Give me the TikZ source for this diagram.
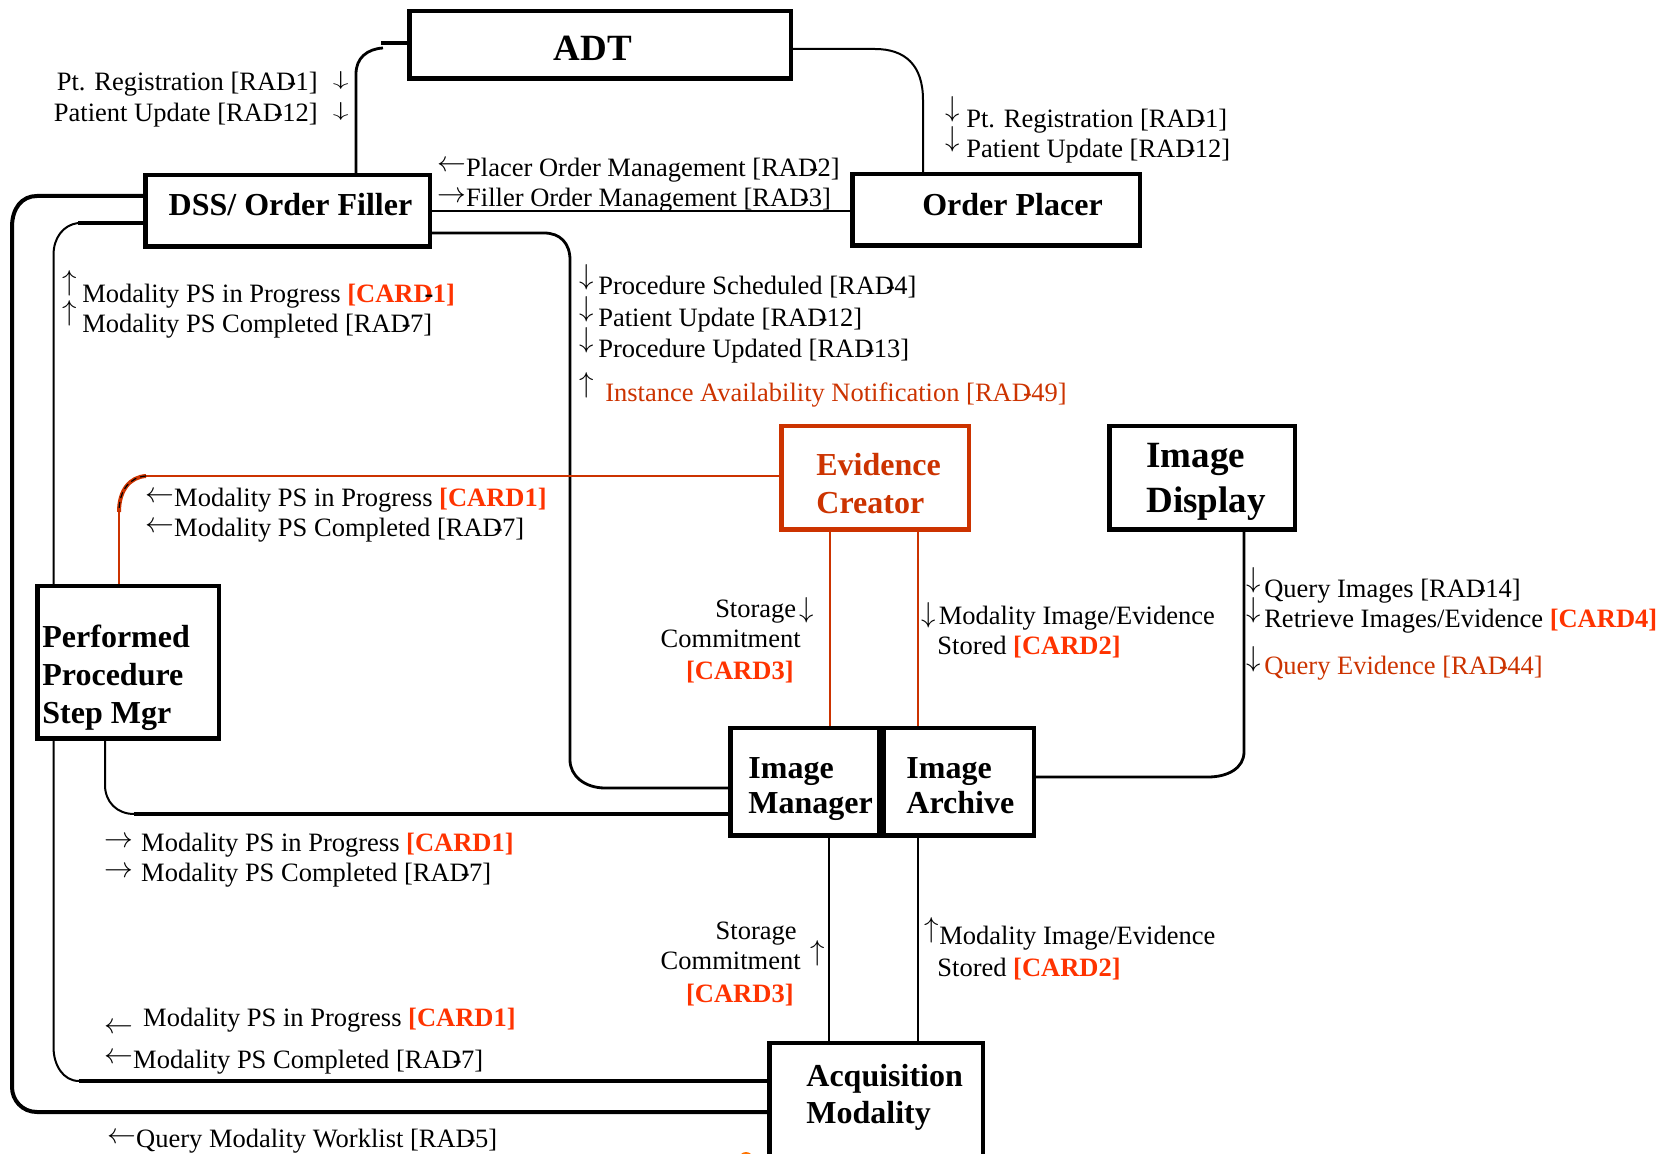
\documentclass[tikz,border=0pt]{standalone}
\usepackage{fontspec}
\setmainfont{Liberation Serif}
\usetikzlibrary{backgrounds}

\definecolor{cardred}{HTML}{FF3300}
\definecolor{evid}{HTML}{CC3300}

% transaction codes: the dash is tucked into the preceding letter
\newcommand\rd[1]{[RAD\kern-.3em-\kern-.02em#1]}
\newcommand\crd[1]{\textcolor{cardred}{\bfseries[CARD#1]}}
\newcommand\diaLabel{\fontsize{13.25}{15}\selectfont}
\newcommand\diaTitle{\fontsize{16}{19}\selectfont\bfseries}
\newcommand\diaBig{\fontsize{18.5}{22.5}\selectfont\bfseries}
\newcommand\boxlines[3]{{\fontsize{#1}{#2}\selectfont\bfseries\begin{tabular}[t]{@{}l@{}}#3\end{tabular}}}

\begin{document}
\begin{tikzpicture}[x=0.5pt,y=-0.5pt,
  box/.style={draw, line width=2.25pt, fill=white, inner sep=0pt, outer sep=0pt},
  lbl/.style={inner sep=0pt, anchor=base west, font=\diaLabel},
  lble/.style={lbl, anchor=base east},
  ttl/.style={inner sep=0pt, font=\diaTitle},
  heavy/.style={line width=2pt},
  medium/.style={line width=1.4pt},
  light/.style={line width=1pt},
  hair/.style={line width=0.75pt},
  ecline/.style={draw=evid, line width=0.9pt}]

\useasboundingbox (0,0) rectangle (1678,1154);
\clip (0,0) rectangle (1678,1154);

% ---- actors ----
\node[box, minimum width=190.75pt, minimum height=33.75pt] (adt)  at (600,45) {};
\node[box, minimum width=142.25pt, minimum height=35.75pt] (dss)  at (287.5,211) {};
\node[box, minimum width=143.75pt, minimum height=35.75pt] (op)   at (996,210) {};
\node[box, draw=evid, minimum width=93.75pt, minimum height=51.75pt] (ec) at (875,478) {};
\node[box, minimum width=92.75pt, minimum height=51.75pt]  (id)   at (1202,478) {};
\node[box, minimum width=90.75pt, minimum height=76.25pt]  (ppsm) at (128,662.5) {};
\node[box, minimum width=74.25pt, minimum height=53.75pt]  (im)   at (804.5,782) {};
\node[box, minimum width=75.25pt, minimum height=53.75pt]  (ia)   at (958.5,782) {};
\node[box, minimum width=106.75pt, minimum height=57.25pt] (am)   at (876,1100.5) {};

% ---- actor names ----
\node[inner sep=0pt, font=\diaBig, anchor=base] (adtT) at (593,61) {ADT};
\node[ttl, anchor=base] (dssT) at (290.5,216) {DSS/ Order Filler};
\node[ttl, anchor=base] (opT)  at (1012.5,216) {Order Placer};
\node[ttl, anchor=base west, text=evid] (ecT) at (816,476) {\boxlines{16}{19}{Evidence\\Creator}};
\node[ttl, anchor=base west] (idT)   at (1146,468) {\boxlines{18.5}{22.5}{Image\\Display}};
\node[ttl, anchor=base west] (ppsmT) at (42,648)  {\boxlines{16}{19}{Performed\\Procedure\\Step Mgr}};
\node[ttl, anchor=base west] (imT)   at (748,779) {\boxlines{16}{17.5}{Image\\Manager}};
\node[ttl, anchor=base west] (iaT)   at (906,779) {\boxlines{16}{17.5}{Image\\Archive}};
\node[ttl, anchor=base west] (amT)   at (806,1087) {\boxlines{16}{18.5}{Acquisition\\Modality}};

% ---- connectors ----
\begin{scope}[on background layer]
  % ADT - Order Filler
  \coordinate (adtStub) at (381,43);
  \draw[heavy] (adtStub) -- (adtStub -| adt.west);
  \draw[medium] (356,0 |- dss.north) -- (356,74) .. controls (356,58) and (367,49) .. (383,48);
  % ADT - Order Placer
  \draw[light] (adt.east |- 0,49) -- (875,49) .. controls (905,49) and (923,65) .. (923,100) -- (923,0 |- op.north);
  % Order Filler - Order Placer
  \draw[light] (dss.east) -- (dss.east -| op.west);
  % Order Filler - Image Manager
  \draw[medium] (dss.east |- 0,233) -- (544,233) .. controls (560,233) and (570,243) .. (570,260)
        -- (570,760) .. controls (570,776) and (585,788) .. (605,788) -- (im.west |- 0,788);
  % Order Filler - Acquisition Modality (worklist)
  \draw[heavy] (dss.west |- 0,196) -- (37,196) .. controls (22,196) and (12,208) .. (12,227)
        -- (12,1087) .. controls (12,1100) and (22,1112) .. (37,1112) -- (am.west |- 0,1112);
  % Order Filler - Acquisition Modality (PPS)
  \coordinate (ofA) at (78,223);
  \coordinate (ofB) at (79,1081);
  \draw[heavy] (dss.west |- ofA) -- (ofA);
  \draw[light] (ofA) .. controls (63,225) and (53.5,238) .. (53.5,255) -- (53.5,1047)
        .. controls (53.5,1065) and (63,1081) .. (ofB);
  \draw[heavy] (ofB) -- (ofB -| am.west);
  % PPS Manager - Image Manager
  \coordinate (pmA) at (134,814);
  \draw[light] (105,0 |- ppsm.south) -- (105,785) .. controls (105,802) and (117,814) .. (pmA);
  \draw[line width=1.75pt] (pmA) -- (pmA -| im.west);
  % Evidence Creator - PPS Manager
  \coordinate (ecA) at (146,476);
  \coordinate (ecB) at (119,512);
  \draw[ecline] (ec.west |- ecA) -- (ecA);
  \draw[evid, line width=2pt] (ecA) .. controls (130,477) and (119,490) .. (ecB);
  \draw[black, line width=0.6pt, dash pattern=on 3pt off 2pt] (ecA) .. controls (130,477) and (119,490) .. (ecB);
  \draw[ecline] (ecB) -- (ecB |- ppsm.north);
  % Evidence Creator - Image Manager / Archive
  \draw[ecline] (830,0 |- ec.south) -- (830,0 |- im.north);
  \draw[ecline] (918,0 |- ec.south) -- (918,0 |- ia.north);
  % Acquisition Modality - Image Manager / Archive
  \draw[hair] (829,0 |- im.south) -- (829,0 |- am.north);
  \draw[hair] (918,0 |- ia.south) -- (918,0 |- am.north);
  % Image Display - Image Archive
  \draw[medium] (1244,0 |- id.south) -- (1244,752) .. controls (1244,768) and (1228,777) .. (1208,777)
        -- (ia.east |- 0,777);
\end{scope}

\fill[orange!90!red] (746,1159) circle (7);

% ---- transactions ----
\node[lble] (regA) at (349,91)  {Pt. Registration \rd{1}\hspace{7.5pt}\raisebox{2.5pt}{\scalebox{1.1}[0.7]{$\downarrow$}}};
\node[lble] (updA) at (349,122) {Patient Update \rd{12}\hspace{7.5pt}\raisebox{2.5pt}{\scalebox{1.1}[0.7]{$\downarrow$}}};

\node[lbl] (regB) at (945.5,128) {\raisebox{5.5pt}{$\downarrow$}\hspace{3pt}Pt. Registration \rd{1}};
\node[lbl] (updB) at (945.5,158) {\raisebox{5.5pt}{$\downarrow$}\hspace{3pt}Patient Update \rd{12}};

\node[lbl] (placer) at (437,177) {\raisebox{2.5pt}{$\leftarrow$}Placer Order Management \rd{2}};
\node[lbl] (filler) at (437,207) {\raisebox{2pt}{$\rightarrow$}Filler Order Management \rd{3}};

\node[lbl] (mpsA) at (62.5,303) {\raisebox{6pt}{$\uparrow$}\hspace{2.5pt}Modality PS in Progress \textcolor{cardred}{\bfseries[CARD\kern-.3em\textcolor{black}{-}\kern-.03em1]}};
\node[lbl] (mpcA) at (62.5,333) {\raisebox{6pt}{$\uparrow$}\hspace{2.5pt}Modality PS Completed \rd{7}};

\node[lbl] (psch) at (579.5,295) {\raisebox{5pt}{$\downarrow$}\hspace{2pt}Procedure Scheduled \rd{4}};
\node[lbl] (pupd) at (579.5,327) {\raisebox{5pt}{$\downarrow$}\hspace{2pt}Patient Update \rd{12}};
\node[lbl] (prup) at (579.5,358) {\raisebox{5pt}{$\downarrow$}\hspace{2pt}Procedure Updated \rd{13}};
\node[lbl, text=evid] (ian) at (579.5,402) {\textcolor{black}{\raisebox{4.5pt}{$\uparrow$}}\hspace{5.5pt}Instance Availability Notification \rd{49}};

\node[lbl] (mpsB) at (145,507) {\raisebox{2pt}{$\leftarrow$}Modality PS in Progress \crd{1}};
\node[lbl] (mpcB) at (145,537) {\raisebox{2pt}{$\leftarrow$}Modality PS Completed \rd{7}};

\node[lble] (stoA) at (814,618) {Storage\hspace{1.5pt}$\downarrow$};
\node[lble] (comA) at (801,648) {Commitment};
\node[lble] (crdA) at (794,680) {\crd{3}};

\node[lbl] (mieA) at (921.5,625) {\raisebox{1pt}{$\downarrow$}\hspace{1.25pt}Modality Image/Evidence};
\node[lbl] (stdA) at (937,655) {Stored \crd{2}};

\node[lbl] (qimg) at (1246.5,598) {\raisebox{5pt}{$\downarrow$}\hspace{1.5pt}Query Images \rd{14}};
\node[lbl] (rimg) at (1246.5,628) {\raisebox{5pt}{$\downarrow$}\hspace{1.5pt}Retrieve Images/Evidence \crd{4}};
\node[lbl, text=evid] (qev) at (1246.5,675) {\textcolor{black}{\raisebox{4pt}{$\downarrow$}}\hspace{1.5pt}Query Evidence \rd{44}};

\node[lbl] (mpsC) at (104,852) {\raisebox{2pt}{$\rightarrow$}\hspace{4pt}Modality PS in Progress \crd{1}};
\node[lbl] (mpcC) at (104,882) {\raisebox{2pt}{$\rightarrow$}\hspace{4pt}Modality PS Completed \rd{7}};

\node[lble] (stoB) at (797,940)  {Storage};
\node[lble] (comB) at (801,970)  {Commitment};
\node[lble] (crdB) at (794,1002) {\crd{3}};
\node[lbl, anchor=center] (upB) at (818,953) {$\uparrow$};

\node[lbl] (mieB) at (924.5,945) {\raisebox{3.5pt}{$\uparrow$}Modality Image/Evidence};
\node[lbl] (stdB) at (937,977) {Stored \crd{2}};

\node[lbl] (mpsD) at (104,1027) {\raisebox{-3.5pt}{$\leftarrow$}\hspace{5pt}Modality PS in Progress \crd{1}};
\node[lbl] (mpcD) at (104,1068) {\raisebox{2pt}{$\leftarrow$}Modality PS Completed \rd{7}};
\node[lbl] (qmw)  at (107,1147) {\raisebox{2pt}{$\leftarrow$}Query Modality Worklist \rd{5}};

\end{tikzpicture}
\end{document}
